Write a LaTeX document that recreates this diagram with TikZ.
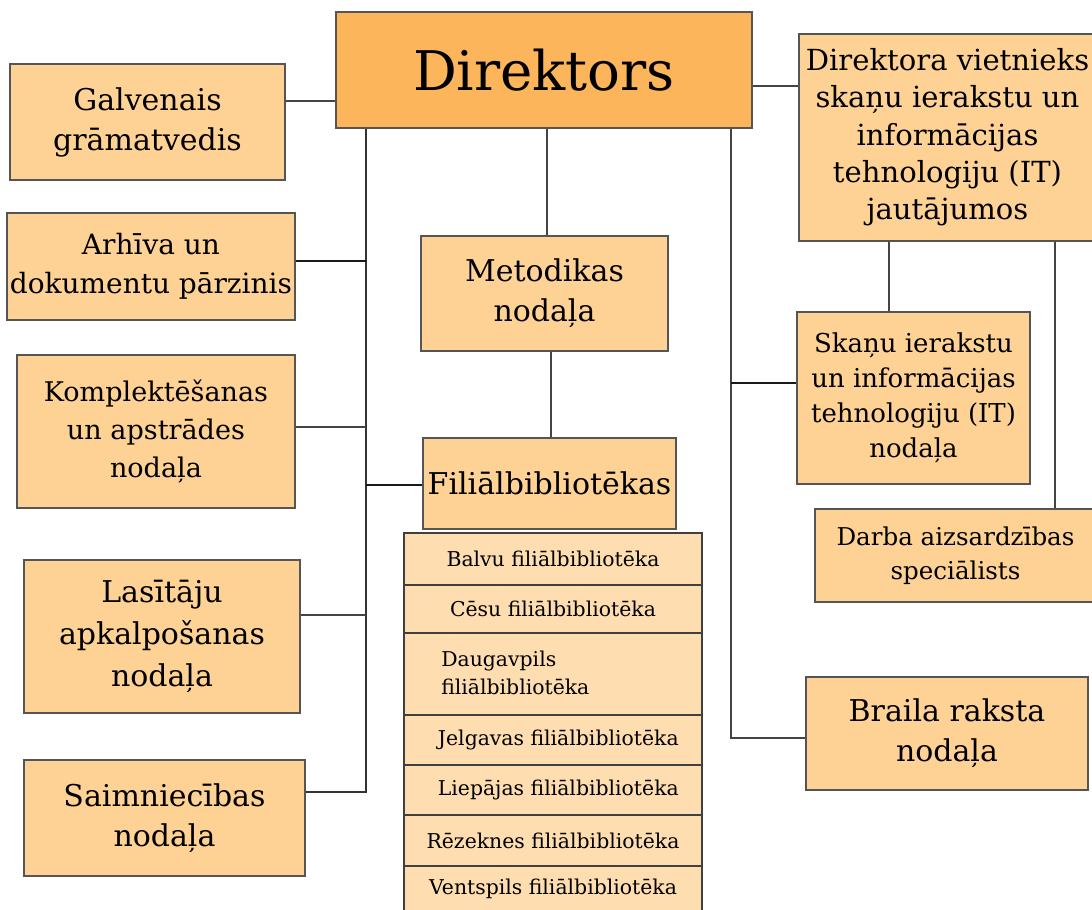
\documentclass[tikz,border=0pt]{standalone}
\usepackage{fontspec}
\setmainfont{DejaVu Serif}
\definecolor{dirfill}{HTML}{FDB55B}
\definecolor{boxfill}{HTML}{FED294}
\definecolor{rowfill}{HTML}{FEDDB0}
\definecolor{edge}{HTML}{555555}
\definecolor{wire}{HTML}{444444}
\tikzset{
  box/.style={draw=edge, fill=boxfill, line width=1pt, inner sep=0pt, align=center,
    font=\fontsize{22.5}{30}\selectfont},
  dirbox/.style={box, fill=dirfill, font=\fontsize{41}{48}\selectfont},
  rowbox/.style={box, fill=rowfill, draw=black!75, font=\fontsize{15.3}{21}\selectfont},
  rowtext/.style={inner sep=0pt, align=left, font=\fontsize{15.3}{21}\selectfont},
  conn/.style={draw=wire, line width=1pt},
  heavy/.style={draw=black!90, line width=1.6pt},
  trunk/.style={draw=black!80, line width=1.3pt}
}
% \orgbox{name}{x1}{y1}{x2}{y2}{style}{text}  (pixel coordinates)
\newcommand\orgbox[7]{%
  \node[#6, minimum width={(#4-#2)*0.75pt}, minimum height={(#5-#3)*0.75pt}]
    (#1) at ({(#2+#4)/2},{(#3+#5)/2}) {#7};}
\begin{document}
\begin{tikzpicture}[x=0.75pt,y=-0.75pt]
\useasboundingbox (0,0) rectangle (1092,910);
\fill[white] (0,0) rectangle (1092,910);

% top
\orgbox{dir}{336}{12}{752}{128}{dirbox}{Direktors}

% left column
\orgbox{gal}{10}{64}{285}{180}{box}{Galvenais\\grāmatvedis}
\orgbox{arh}{7}{213}{295}{320}{box, font=\fontsize{21}{29}\selectfont}{Arhīva un\\dokumentu pārzinis}
\orgbox{kom}{17}{355}{295}{508}{box, font=\fontsize{20.3}{28.5}\selectfont}{Komplektēšanas\\un apstrādes\\nodaļa}
\orgbox{las}{24}{560}{300}{713}{box, font=\fontsize{22.5}{31.5}\selectfont}{Lasītāju\\apkalpošanas\\nodaļa}
\orgbox{sai}{24}{760}{305}{876}{box}{Saimniecības\\nodaļa}

% middle column
\orgbox{met}{421}{236}{668}{351}{box}{Metodikas\\nodaļa}
\orgbox{fil}{423}{438}{676}{529}{box}{Filiālbibliotēkas}

\orgbox{r1}{404}{533}{702}{585}{rowbox}{Balvu filiālbibliotēka}
\orgbox{r2}{404}{585}{702}{633}{rowbox}{Cēsu filiālbibliotēka}
\orgbox{r3}{404}{633}{702}{715}{rowbox}{}
\node[rowtext, anchor=west] (r3t) at (441,673) {Daugavpils\\filiālbibliotēka};
\orgbox{r4}{404}{715}{702}{765}{rowbox}{\hspace*{8pt}Jelgavas filiālbibliotēka}
\orgbox{r5}{404}{765}{702}{815}{rowbox}{\hspace*{8pt}Liepājas filiālbibliotēka}
\orgbox{r6}{404}{815}{702}{866}{rowbox}{Rēzeknes filiālbibliotēka}
\orgbox{r7}{404}{866}{702}{918}{rowbox}{}
\node[rowtext] (r7t) at (553,889) {Ventspils filiālbibliotēka};

% right column
\orgbox{vie}{799}{34}{1096}{241}{box, font=\fontsize{21.8}{28}\selectfont}{Direktora vietnieks\\skaņu ierakstu un\\informācijas\\tehnologiju (IT)\\jautājumos}
\orgbox{sk}{797}{312}{1030}{484}{box, font=\fontsize{19.5}{26.3}\selectfont}{Skaņu ierakstu\\un informācijas\\tehnologiju (IT)\\nodaļa}
\orgbox{dar}{815}{509}{1096}{602}{box, font=\fontsize{18.4}{25.5}\selectfont}{Darba aizsardzības\\speciālists}
\orgbox{bra}{806}{677}{1088}{790}{box}{Braila raksta\\nodaļa}

% connectors left
\draw[conn] (dir.west |- 0,101) -- (gal.east |- 0,101);
\draw[trunk] (dir.south -| 366,0) -- (366,792) -- (sai.east |- 0,792);
\draw[heavy] (366,261) -- (arh.east |- 0,261);
\draw[conn] (366,427) -- (kom.east |- 0,427);
\draw[conn] (366,615) -- (las.east |- 0,615);
\draw[heavy] (366,485) -- (fil.west |- 0,485);

% connectors middle
\draw[conn] (dir.south -| 547,0) -- (met.north -| 547,0);
\draw[conn] (met.south -| 551,0) -- (fil.north -| 551,0);

% connectors right
\draw[conn] (dir.east |- 0,86) -- (vie.west |- 0,86);
\draw[conn] (dir.south -| 731,0) -- (731,738) -- (bra.west |- 0,738);
\draw[heavy] (731,383) -- (sk.west |- 0,383);
\draw[conn] (vie.south -| 889,0) -- (sk.north -| 889,0);
\draw[conn] (vie.south -| 1055,0) -- (dar.north -| 1055,0);
\end{tikzpicture}
\end{document}
